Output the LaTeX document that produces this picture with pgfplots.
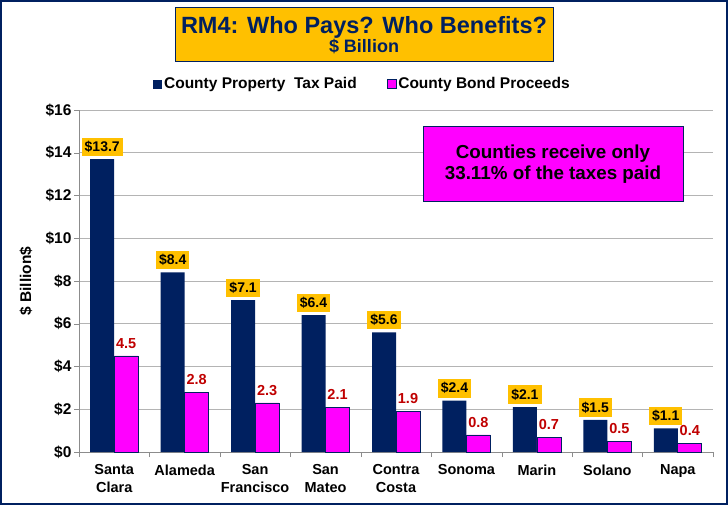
\documentclass[border=0pt]{standalone}
\usepackage{pgfplots}
\pgfplotsset{compat=1.18}
\usepackage{pgfplotstable}
\usepackage{fontspec}
\setmainfont{Liberation Sans}
\definecolor{navy}{HTML}{002060}
\definecolor{gold}{HTML}{FFC000}
\definecolor{mag}{HTML}{FF00FF}
\definecolor{dred}{HTML}{C00000}
\definecolor{gridc}{HTML}{B4B4B4}
\definecolor{axc}{HTML}{8C8C8C}
\pgfplotstableread{
x tax bond
0 13.7 4.5
1 8.4 2.8
2 7.1 2.3
3 6.4 2.1
4 5.6 1.9
5 2.4 0.8
6 2.1 0.7
7 1.5 0.5
8 1.1 0.4
}\datatable
\newcommand\fs[2]{\fontsize{#1}{#2}\selectfont\bfseries}
\begin{document}
\begin{tikzpicture}[x=1pt,y=1pt]
\useasboundingbox (0,0) rectangle (728,-505);
\fill[white] (0,0) rectangle (728,-505);
\begin{axis}[
  at={(79pt,-452pt)}, anchor=south west,
  scale only axis, width=634pt, height=342pt,
  xmin=-0.5, xmax=8.5, ymin=0, ymax=16,
  ytick={0,2,...,16},
  xtick={-0.5,0.5,...,8.5},
  x tick label as interval,
  xticklabels={{Santa\\Clara},Alameda,{San\\Francisco},{San\\Mateo},{Contra\\Costa},Sonoma,Marin,Solano,Napa},
  x tick label style={align=center, font=\fs{14.5}{18}, text=black, yshift=-4pt},
  y tick label style={font=\fs{15.5}{15.5}, text=black, xshift=1pt},
  yticklabel={\$\pgfmathprintnumber{\tick}},
  /pgf/number format/assume math mode=true,
  tick align=outside, tick pos=left, major tick length=5pt,
  tick style={axc},
  axis lines*=left,
  axis line style={axc, line width=0.8pt},
  ymajorgrids, grid style={gridc, line width=0.8pt},
  ybar=0pt, bar width=24pt,
  ylabel={\$ Billion\$},
  ylabel style={font=\fs{15.5}{15.5}, at={(axis description cs:-0.0836,0.5)}, anchor=center},
  legend style={at={(0.447,1.076)}, anchor=center, draw=none, fill=none,
    font=\fs{15.5}{15.5}, legend columns=2,
    /tikz/every even column/.append style={column sep=28pt}},
]
\addplot[fill=navy, draw=none,
  legend image code/.code={\fill[navy] (0pt,-4.5pt) rectangle (9pt,4.5pt);},
  nodes near coords={\$\pgfmathprintnumber[fixed,precision=1,fixed zerofill]{\pgfplotspointmeta}},
  every node near coord/.append style={fill=gold, text=black, font=\fs{14}{14},
    inner xsep=3pt, inner ysep=3.5pt, anchor=south, yshift=3pt}]
  table[x=x, y=tax] {\datatable};
\addlegendentry{County Property~ Tax Paid}
\addplot[fill=mag, draw=navy, line width=0.6pt,
  legend image code/.code={\draw[fill=mag, draw=navy, line width=0.6pt] (0pt,-4.5pt) rectangle (9pt,4.5pt);},
  nodes near coords={\pgfmathprintnumber[fixed,precision=1,fixed zerofill]{\pgfplotspointmeta}},
  every node near coord/.append style={text=dred, font=\fs{14.5}{14.5}, anchor=south, yshift=4pt}]
  table[x=x, y=bond] {\datatable};
\addlegendentry{County Bond Proceeds}
\end{axis}
\node[fill=gold, draw=navy, line width=1pt, minimum width=378pt, minimum height=54pt,
  align=center, text=navy, inner sep=0pt] at (364,-35)
  {{\fs{23.5}{24}RM4: Who Pays? Who Benefits?}\\{\fs{18}{21}\$ Billion}};
\node[fill=mag, draw=navy, line width=1pt, minimum width=260pt, minimum height=75pt,
  align=center, text=black, font=\fs{18.8}{21}] at (553,-164.5)
  {Counties receive only\\33.11\% of the taxes paid};
\draw[navy, line width=2pt] (1,-1) rectangle (727,-504);
\end{tikzpicture}
\end{document}
